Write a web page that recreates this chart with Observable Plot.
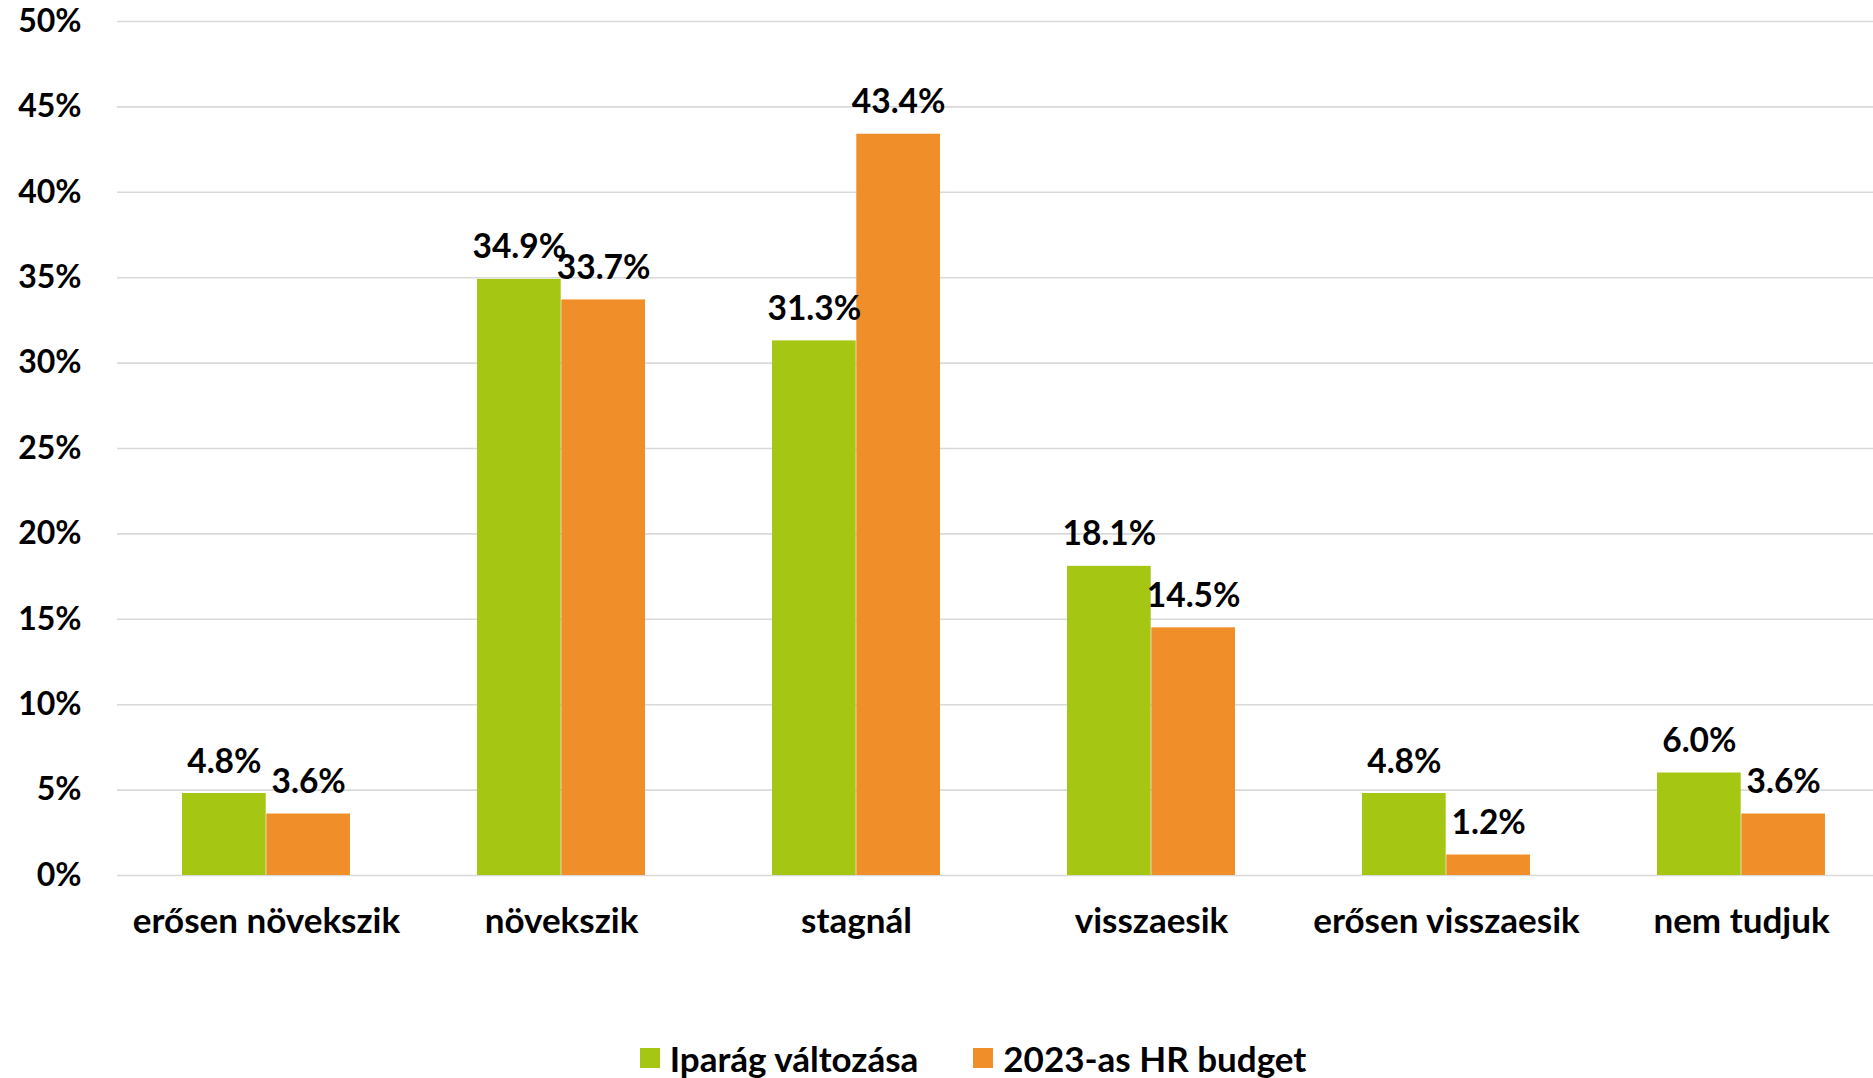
<!DOCTYPE html>
<html>
<head>
<meta charset="utf-8">
<script src="https://cdn.jsdelivr.net/npm/d3@7"></script>
<script src="https://cdn.jsdelivr.net/npm/@observablehq/plot@0.6"></script>
<style>
  html, body { margin: 0; padding: 0; background: white; overflow: hidden; }
  #legend {
    height: 56px; display: flex; align-items: center; justify-content: center;
    margin-left: 73px; gap: 55px;
    font-family: Lato, sans-serif; font-weight: bold; font-size: 35px; color: #000;
  }
  .item { display: flex; align-items: center; gap: 10px; }
  .sw { width: 20px; height: 20px; display: inline-block; }
</style>
</head>
<body>
<div id="chart"></div>
<div id="legend"></div>
<script>
const categories = ["erősen növekszik", "növekszik", "stagnál", "visszaesik", "erősen visszaesik", "nem tudjuk"];
const seriesNames = ["Iparág változása", "2023-as HR budget"];
const iparag = [4.8, 34.9, 31.3, 18.1, 4.8, 6.0];
const budget = [3.6, 33.7, 43.4, 14.5, 1.2, 3.6];
const yTicks = [0, 5, 10, 15, 20, 25, 30, 35, 40, 45, 50];
const colors = ["#A5C613", "#F08F29"];

const rowsA = categories.map((c, i) => ({category: c, value: iparag[i]}));
const rowsB = categories.map((c, i) => ({category: c, value: budget[i]}));

const W = 1873, H = 1030;
const half = 84.3;
const fmt = v => d3.format(".1f")(v) + "%";

const chart = Plot.plot({
  width: W,
  height: H,
  marginLeft: 117,
  marginRight: 0,
  marginTop: 21,
  marginBottom: 155,
  style: {fontFamily: "Lato, sans-serif", fontSize: "32px", fontWeight: "bold", color: "#000", background: "white"},
  x: {domain: categories, range: [116.8, 1889.4], paddingInner: 0.43, paddingOuter: 0.215, label: null},
  y: {domain: [0, 50], label: null},
  marks: [
    Plot.ruleY(yTicks, {stroke: "#d9d9d9", strokeWidth: 1.6}),
    Plot.barY(rowsA, {x: "category", y: "value", fill: colors[0], insetRight: half}),
    Plot.barY(rowsB, {x: "category", y: "value", fill: colors[1], insetLeft: half}),
    Plot.text(rowsA, {x: "category", y: "value", text: d => fmt(d.value), dx: -half / 2, dy: -21, lineAnchor: "bottom", fill: "#000", fontSize: 33.5}),
    Plot.text(rowsB, {x: "category", y: "value", text: d => fmt(d.value), dx: half / 2, dy: -21, lineAnchor: "bottom", fill: "#000", fontSize: 33.5}),
    Plot.axisY({ticks: yTicks, tickFormat: d => d + "%", tickSize: 0, tickPadding: 36, label: null}),
    Plot.axisX({tickSize: 0, tickPadding: 33, label: null, fontSize: 35})
  ]
});
document.getElementById("chart").appendChild(chart);

const legend = document.getElementById("legend");
seriesNames.forEach((name, i) => {
  const item = document.createElement("div");
  item.className = "item";
  const sw = document.createElement("span");
  sw.className = "sw";
  sw.style.background = colors[i];
  const t = document.createElement("span");
  t.textContent = name;
  item.appendChild(sw);
  item.appendChild(t);
  legend.appendChild(item);
});
</script>
</body>
</html>
